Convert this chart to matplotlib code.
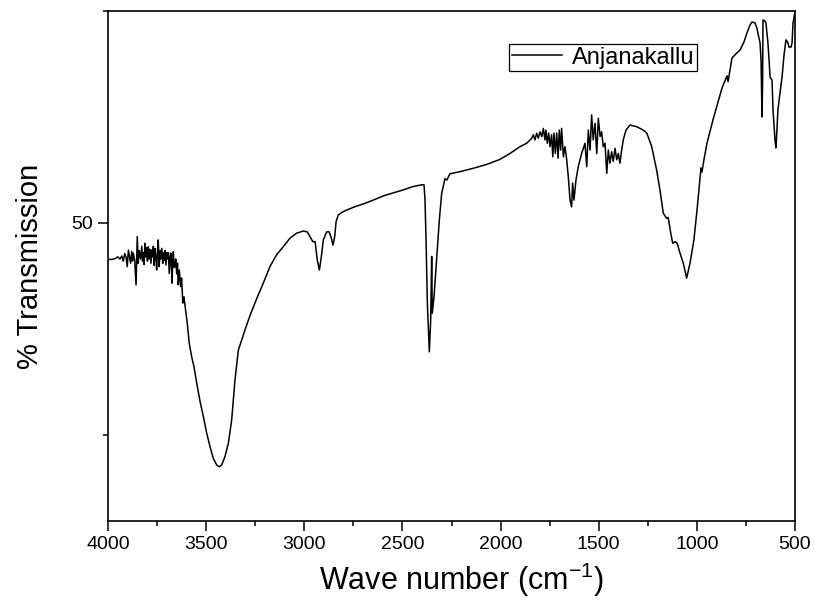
import numpy as np
import matplotlib.pyplot as plt
from matplotlib.ticker import MultipleLocator

plt.rcParams['font.family'] = ['Liberation Sans', 'DejaVu Sans']
plt.rcParams['mathtext.fontset'] = 'custom'
plt.rcParams['mathtext.rm'] = 'Liberation Sans'

# FTIR spectrum (wave number, % transmission)
wavenumber = [3999, 3980, 3964, 3950, 3939, 3930, 3922, 3915, 3908, 3902, 3896, 3891,
              3885, 3879, 3875, 3871, 3864, 3857, 3851, 3846, 3841, 3834, 3828, 3824,
              3820, 3816, 3812, 3807, 3803, 3799, 3795, 3790, 3786, 3781, 3777, 3773,
              3769, 3765, 3761, 3756, 3752, 3748, 3744, 3739, 3735, 3731, 3726, 3721,
              3717, 3713, 3709, 3705, 3700, 3696, 3692, 3688, 3683, 3679, 3674, 3670,
              3667, 3663, 3659, 3655, 3650, 3646, 3642, 3637, 3633, 3630, 3625, 3619,
              3613, 3606, 3596, 3586, 3574, 3562, 3548, 3531,
              3514, 3497, 3480, 3464, 3446, 3433, 3421, 3404, 3387, 3370, 3353, 3336,
              3302, 3277, 3242, 3209, 3175, 3141, 3107, 3073, 3039, 3005, 2985, 2971,
              2957, 2945, 2934, 2923, 2913, 2903, 2886, 2873, 2862, 2854, 2845, 2838,
              2827, 2801, 2750, 2699, 2648, 2597, 2547, 2496, 2445, 2402, 2390, 2385,
              2380, 2373, 2363, 2356, 2351, 2348, 2339, 2325, 2312, 2300, 2283, 2274,
              2258, 2207, 2139, 2071, 2003, 1952, 1901, 1867, 1841, 1833, 1825, 1816,
              1808, 1799, 1790, 1782, 1774, 1769, 1762, 1755, 1748, 1740, 1734, 1728,
              1721, 1714, 1707, 1701, 1694, 1689, 1680, 1672, 1663, 1655, 1646, 1638,
              1633, 1626, 1616, 1604, 1587, 1570, 1561, 1553, 1544, 1536, 1528, 1519,
              1510, 1502, 1493, 1485, 1477, 1468, 1459, 1451, 1443, 1434, 1426, 1417,
              1408, 1400, 1392, 1383, 1375, 1361, 1341, 1306, 1273, 1255, 1230, 1205,
              1188, 1171, 1154, 1146, 1133, 1123, 1111, 1100, 1086, 1069, 1052, 1035,
              1015, 999, 984, 979, 974, 964, 948, 918, 892, 872, 851, 846, 841, 831,
              821, 801, 780, 760, 745, 729, 719, 704, 694, 689, 678, 673, 668, 665,
              663, 653, 648, 638, 632, 627, 617, 612, 602, 597, 592, 587, 576, 566,
              556, 546, 536, 531, 520, 515, 510, 500]
transmission = [49.14, 49.14, 49.16, 49.20, 49.15, 49.22, 49.10, 49.28, 49.20, 48.97, 49.36, 49.22,
                49.05, 49.33, 49.10, 49.29, 49.12, 48.54, 49.68, 49.05, 49.35, 49.15, 49.45, 49.10,
                49.30, 49.02, 49.52, 49.20, 49.42, 49.10, 49.44, 49.15, 49.38, 49.05, 49.36, 49.20,
                49.45, 49.00, 49.40, 49.18, 48.89, 49.35, 49.60, 48.97, 49.35, 49.15, 49.40, 49.05,
                49.30, 49.12, 49.35, 49.01, 49.30, 49.15, 49.30, 48.81, 49.20, 49.29, 48.58, 49.10,
                49.32, 48.95, 48.97, 49.15, 48.80, 49.05, 48.54, 48.89, 48.70, 48.50, 48.70, 48.11,
                48.26, 47.99, 47.63, 47.16, 46.85, 46.61, 46.22, 45.79,
                45.43, 45.04, 44.72, 44.45, 44.29, 44.25, 44.29, 44.49, 44.80, 45.35, 46.30, 47.00,
                47.48, 47.81, 48.22, 48.58, 48.97, 49.25, 49.44, 49.64, 49.76, 49.81, 49.79, 49.68,
                49.56, 49.56, 49.13, 48.89, 49.21, 49.60, 49.79, 49.79, 49.64, 49.48, 49.68, 50.03,
                50.19, 50.27, 50.37, 50.45, 50.54, 50.64, 50.71, 50.78, 50.86, 50.90, 50.90, 50.54,
                49.68, 48.11, 46.96, 47.71, 49.21, 47.87, 48.26, 49.21, 50.07, 50.70, 51.05, 51.01,
                51.16, 51.21, 51.29, 51.38, 51.50, 51.64, 51.80, 51.88, 52.00, 52.08, 51.96, 52.12,
                52.00, 52.15, 52.04, 52.23, 51.96, 52.19, 51.88, 52.12, 51.80, 52.08, 51.56, 52.12,
                51.64, 52.12, 51.53, 52.19, 51.72, 52.23, 51.56, 51.80, 51.49, 51.09, 50.54, 50.38,
                50.94, 50.54, 51.01, 51.33, 51.64, 51.88, 51.33, 52.19, 51.72, 52.55, 51.96, 52.35,
                51.64, 52.47, 52.04, 52.15, 51.80, 51.88, 51.17, 51.72, 51.41, 51.68, 51.45, 51.76,
                51.49, 51.64, 51.41, 51.72, 51.96, 52.19, 52.31, 52.27, 52.19, 52.12, 51.80, 51.25,
                50.78, 50.23, 50.11, 50.13, 49.76, 49.52, 49.56, 49.52, 49.29, 49.05, 48.70, 49.05,
                49.60, 50.31, 51.06, 51.30, 51.20, 51.49, 51.89, 52.43, 52.85, 53.18, 53.42, 53.47, 53.33, 53.61,
                53.89, 53.99, 54.08, 54.27, 54.48, 54.67, 54.74, 54.72, 54.60, 54.48, 54.25, 53.84, 52.50, 53.37,
                54.79, 54.76, 54.72, 54.25, 53.84, 53.44, 53.37, 52.67, 51.96, 51.77, 52.19, 52.67, 53.09, 53.44,
                53.96, 54.32, 54.25, 54.15, 54.15, 54.25, 54.72, 54.98]

series_name = 'Anjanakallu'
x_label = r'Wave number (cm$^{\mathregular{-1}}$)'
y_label = '% Transmission'

fig = plt.figure(figsize=(8.15, 6.07), dpi=100)
ax = fig.add_axes([108 / 815, 1 - 521 / 607, 687 / 815, 510 / 607])

ax.plot(wavenumber, transmission, color='black', linewidth=1.1, label=series_name)

ax.set_xlim(4000, 500)
ax.set_ylim(42.97, 55)
ax.xaxis.set_major_locator(MultipleLocator(500))
ax.xaxis.set_minor_locator(MultipleLocator(250))
ax.yaxis.set_major_locator(MultipleLocator(10))
ax.yaxis.set_minor_locator(MultipleLocator(5))

for s in ax.spines.values():
    s.set_linewidth(1.2)
ax.tick_params(which='major', direction='out', length=7, width=1.1, labelsize=14)
ax.tick_params(which='minor', direction='out', length=3.5, width=1.1)

ax.set_xlabel(x_label, fontsize=22, labelpad=5)
ax.xaxis.set_label_coords(0.515, -0.077)
ax.set_ylabel(y_label, fontsize=21, labelpad=20)

leg = ax.legend(loc='upper left', bbox_to_anchor=(0.584, 0.935), borderaxespad=0,
                fontsize=17, fancybox=False, handlelength=2.15, handletextpad=0.4,
                borderpad=0.1, framealpha=1)
leg.get_frame().set_edgecolor('black')
leg.get_frame().set_linewidth(0.9)

fig.savefig('out.png', dpi=100)
